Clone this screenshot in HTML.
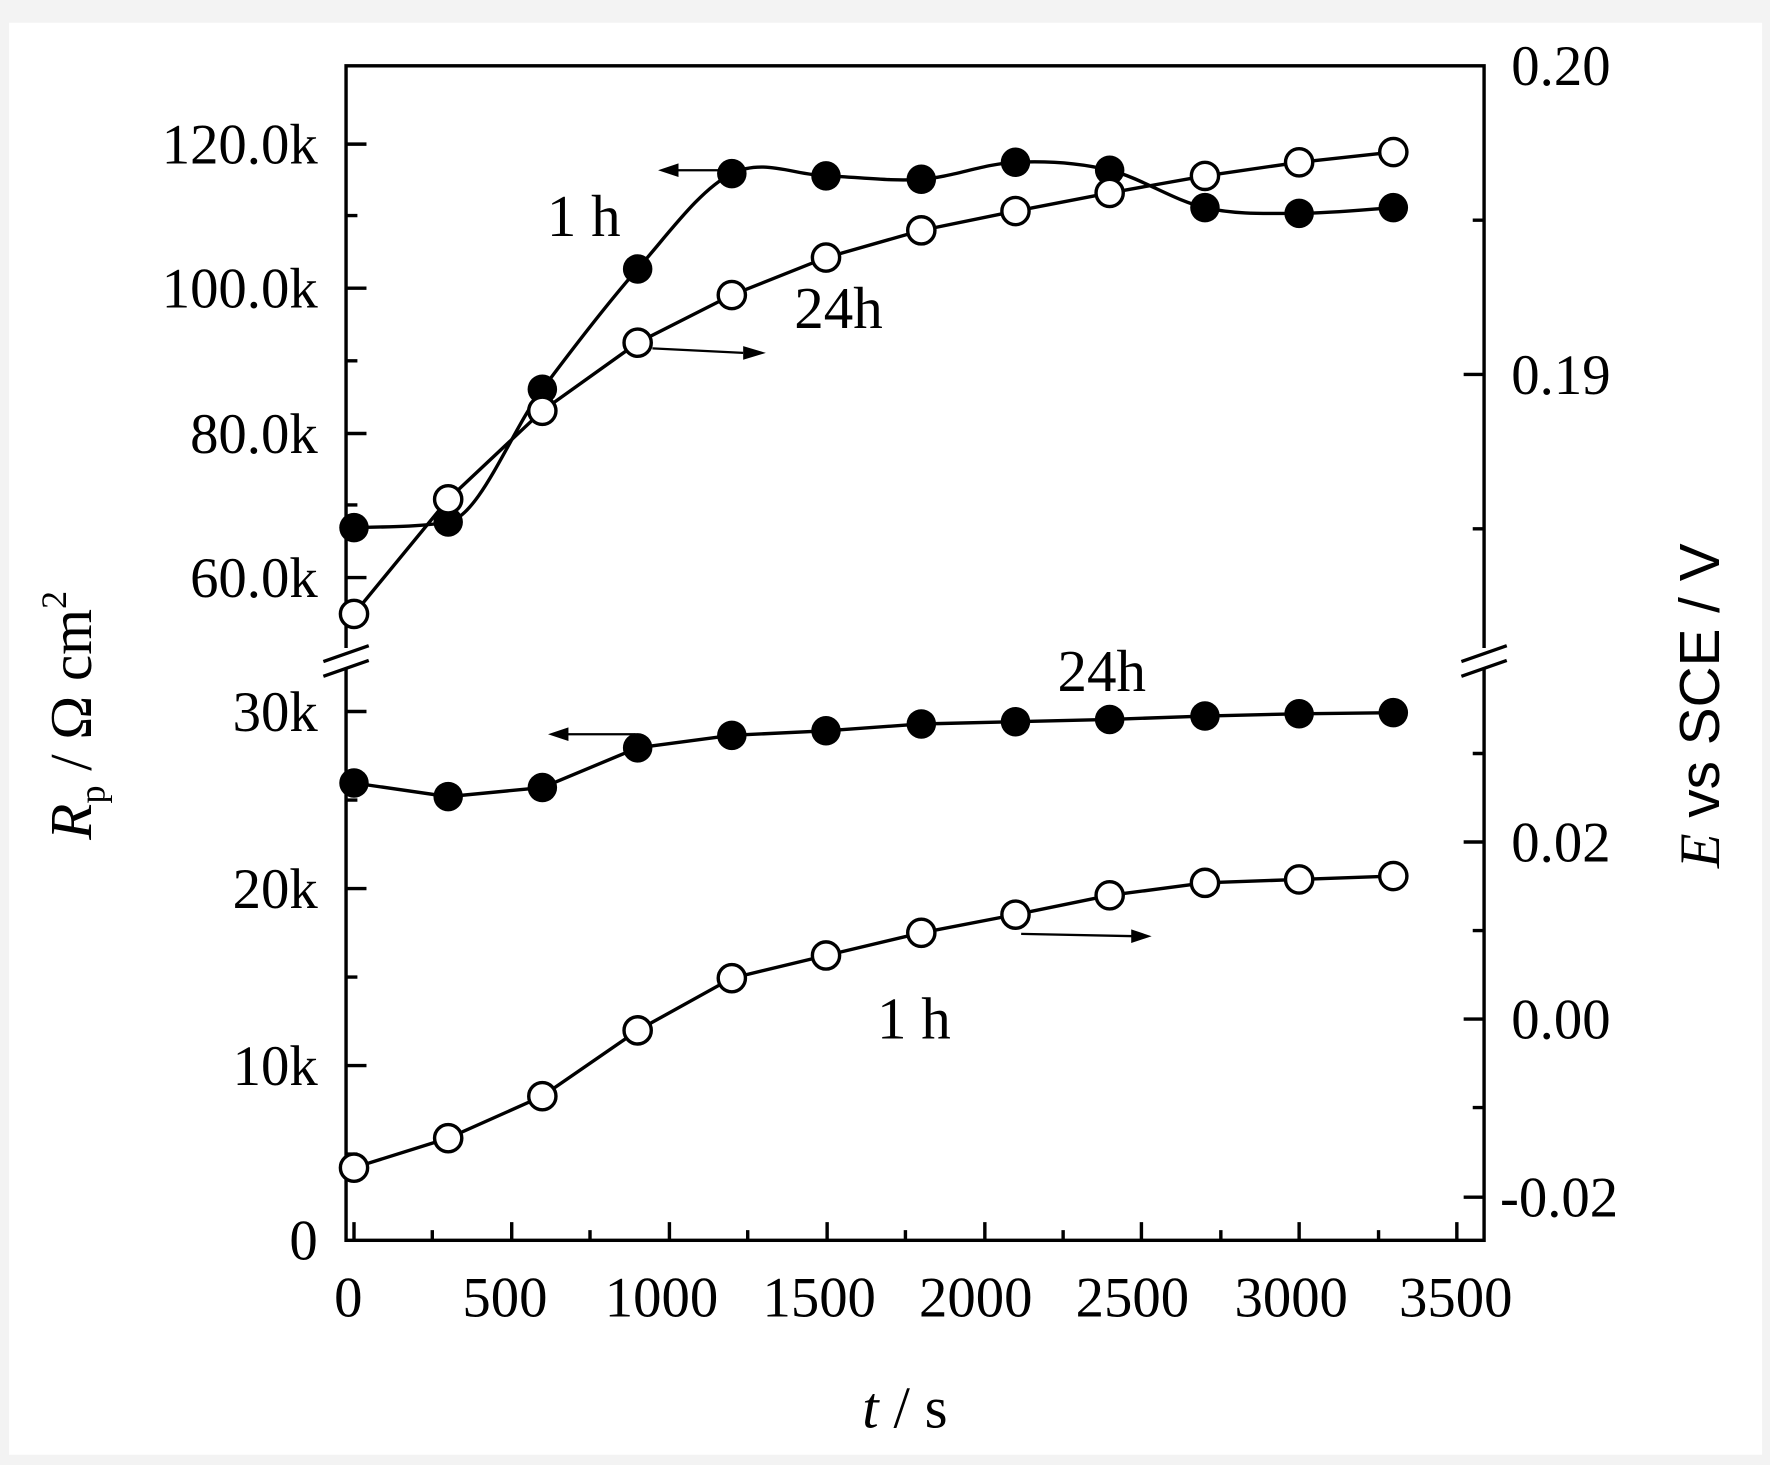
<!DOCTYPE html>
<html><head><style>html,body{margin:0;padding:0;background:#fff}svg{display:block}</style></head>
<body>
<svg width="1770" height="1465" viewBox="0 0 1560 1291" preserveAspectRatio="none" xmlns="http://www.w3.org/2000/svg" font-family="Liberation Serif, serif" font-size="50">
<rect x="0" y="0" width="1560" height="1291" fill="#f3f3f3"/>
<rect x="8" y="20" width="1545" height="1262" fill="#fff"/>
<g stroke="#000" stroke-width="3" fill="none">
<rect x="305" y="58" width="1003" height="1035"/>
<path d="M312 1093v-16M451 1093v-16M590 1093v-16M729 1093v-16M868 1093v-16M1006 1093v-16M1145 1093v-16M1284 1093v-16M381 1093v-9M520 1093v-9M659 1093v-9M798 1093v-9M937 1093v-9M1076 1093v-9M1215 1093v-9"/>
<path d="M305 127h18M305 254h18M305 382h18M305 509h18M305 190h10M305 318h10M305 445h10M305 627h18M305 783h18M305 939h18M305 705h10M305 861h10M305 1017h10"/>
<path d="M1308 330h-18M1308 194h-10M1308 466h-10M1308 742h-18M1308 898h-18M1308 1055h-18M1308 664h-10M1308 820h-10M1308 976h-10"/>
</g>
<g stroke="#fff" stroke-width="12"><path d="M305 571v18M1308 571v18"/></g>
<g stroke="#000" stroke-width="3"><path d="M285 583l40-14M285 596l40-14M1288 583l40-14M1288 596l40-14"/></g>
<g stroke="#000" stroke-width="3" fill="none">
<path d="M312 465C325.8 464.2 367.3 465 395 460C422.7 455 450.2 380.2 478 343C505.8 305.8 534.2 268.7 562 237C589.8 205.3 617.3 166.7 645 153C672.7 139.3 700.2 154.2 728 155C755.8 155.8 784.2 160 812 158C839.8 156 867.3 144.3 895 143C922.7 141.7 950.2 143.3 978 150C1005.8 156.7 1034.2 176.7 1062 183C1089.8 189.3 1117.3 188 1145 188C1172.7 188 1214.2 183.8 1228 183"/>
<path d="M312 541L395 440L478 362L562 302L645 260L728 227L812 203L895 186L978 170L1062 155L1145 143L1228 134"/>
<path d="M312 690L395 702L478 694L562 659L645 648L728 644L812 638L895 636L978 634L1062 631L1145 629L1228 628"/>
<path d="M312 1029L395 1003L478 966L562 908L645 862L728 842L812 822L895 806L978 789L1062 778L1145 775L1228 772"/>
<path d="M645 150H595M575 307L655 311M560 647H500M900 823L1000 825" stroke-width="2"/>
</g>
<g fill="#000"><path d="M580 150l18-6v12zM675 311l-20-6v12zM483 647l18-6v12zM1015 825l-18-6v12z"/></g>
<g fill="#000">
<circle cx="312" cy="465" r="13"/><circle cx="395" cy="460" r="13"/><circle cx="478" cy="343" r="13"/><circle cx="562" cy="237" r="13"/><circle cx="645" cy="153" r="13"/><circle cx="728" cy="155" r="13"/><circle cx="812" cy="158" r="13"/><circle cx="895" cy="143" r="13"/><circle cx="978" cy="150" r="13"/><circle cx="1062" cy="183" r="13"/><circle cx="1145" cy="188" r="13"/><circle cx="1228" cy="183" r="13"/>
<circle cx="312" cy="690" r="13"/><circle cx="395" cy="702" r="13"/><circle cx="478" cy="694" r="13"/><circle cx="562" cy="659" r="13"/><circle cx="645" cy="648" r="13"/><circle cx="728" cy="644" r="13"/><circle cx="812" cy="638" r="13"/><circle cx="895" cy="636" r="13"/><circle cx="978" cy="634" r="13"/><circle cx="1062" cy="631" r="13"/><circle cx="1145" cy="629" r="13"/><circle cx="1228" cy="628" r="13"/>
</g>
<g fill="#fff" stroke="#000" stroke-width="3">
<circle cx="312" cy="541" r="12"/><circle cx="395" cy="440" r="12"/><circle cx="478" cy="362" r="12"/><circle cx="562" cy="302" r="12"/><circle cx="645" cy="260" r="12"/><circle cx="728" cy="227" r="12"/><circle cx="812" cy="203" r="12"/><circle cx="895" cy="186" r="12"/><circle cx="978" cy="170" r="12"/><circle cx="1062" cy="155" r="12"/><circle cx="1145" cy="143" r="12"/><circle cx="1228" cy="134" r="12"/>
<circle cx="312" cy="1029" r="12"/><circle cx="395" cy="1003" r="12"/><circle cx="478" cy="966" r="12"/><circle cx="562" cy="908" r="12"/><circle cx="645" cy="862" r="12"/><circle cx="728" cy="842" r="12"/><circle cx="812" cy="822" r="12"/><circle cx="895" cy="806" r="12"/><circle cx="978" cy="789" r="12"/><circle cx="1062" cy="778" r="12"/><circle cx="1145" cy="775" r="12"/><circle cx="1228" cy="772" r="12"/>
</g>
<g text-anchor="middle">
<text x="307" y="1160">0</text><text x="445" y="1160">500</text><text x="583" y="1160">1000</text><text x="722" y="1160">1500</text><text x="860" y="1160">2000</text><text x="998" y="1160">2500</text><text x="1138" y="1160">3000</text><text x="1283" y="1160">3500</text>
</g>
<g text-anchor="end">
<text x="280" y="144">120.0k</text><text x="280" y="271">100.0k</text><text x="280" y="399">80.0k</text><text x="280" y="526">60.0k</text>
<text x="280" y="644">30k</text><text x="280" y="800">20k</text><text x="280" y="956">10k</text><text x="280" y="1110">0</text>
</g>
<g text-anchor="start">
<text x="1332" y="75">0.20</text><text x="1332" y="347">0.19</text><text x="1332" y="759">0.02</text><text x="1332" y="915">0.00</text><text x="1322" y="1072">-0.02</text>
</g>
<g font-size="52">
<text x="482" y="208">1 h</text><text x="700" y="289">24h</text><text x="932" y="609">24h</text><text x="773" y="915">1 h</text>
<text x="760" y="1258"><tspan font-style="italic">t</tspan> / s</text>
<text transform="translate(80,740) rotate(-90)"><tspan font-style="italic">R</tspan><tspan font-size="32" dy="12">p</tspan><tspan dy="-12"> / Ω cm</tspan><tspan font-size="32" dy="-22">2</tspan></text>
<text transform="translate(1515,765) rotate(-90)" font-size="50"><tspan font-style="italic" font-family="Liberation Serif, serif">E</tspan><tspan font-family="Liberation Sans, sans-serif"> vs SCE / V</tspan></text>
</g>
</svg>
</body></html>
